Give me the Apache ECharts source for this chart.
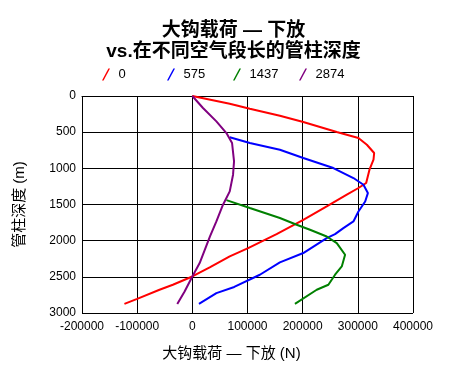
<!DOCTYPE html>
<html><head><meta charset="utf-8">
<script src="https://cdn.jsdelivr.net/npm/echarts@6/dist/echarts.min.js"></script>
<style>html,body{margin:0;padding:0;background:#fff}#c{width:467px;height:373px}</style>
</head><body><div id="c"></div>
<script>
const seriesNames = ['0', '575', '1437', '2874'];
const colors = ['#ff0000', '#0000ff', '#008000', '#800080'];
const xTicks = [-200000, 400000, 100000];
const yTicks = [0, 3000, 500];
// [hook load (N), depth (m)]
const s0 = [[0,0],[67800,106],[104200,176],[158700,272],[201100,360],[261800,498],[301100,581],[316400,674],[329600,788],[328400,881],[321100,1019],[315100,1203],[301100,1272],[280000,1365],[243600,1527],[201100,1711],[152700,1909],[101100,2102],[67800,2218],[31500,2370],[0,2495],[-35300,2610],[-59500,2679],[-100000,2804],[-123100,2874]];
const s575 = [[67800,570],[104200,650],[158700,743],[201100,857],[255600,996],[292000,1134],[310200,1227],[318200,1342],[313300,1458],[301100,1596],[292000,1734],[273800,1826],[258700,1909],[243600,1964],[201100,2171],[158700,2301],[122400,2471],[76000,2640],[43600,2725],[12000,2874]];
const s1437 = [[61800,1440],[104200,1549],[158700,1687],[189100,1780],[213300,1849],[243600,1942],[261800,2033],[276900,2195],[270900,2357],[258700,2471],[246600,2610],[225500,2679],[186000,2874]];
const s2874 = [[0,0],[19300,166],[43600,351],[61800,512],[72000,650],[75600,904],[73800,1088],[67800,1319],[55600,1503],[43600,1734],[32000,1940],[13300,2310],[0,2495],[-14000,2702],[-27300,2874]];
const allData = [s0, s575, s1437, s2874];
const legendLefts = [97, 162, 228, 294];

const chart = echarts.init(document.getElementById('c'), null, {renderer:'canvas'});
const font = 'Arial, "Liberation Sans", "Noto Sans CJK SC", sans-serif';
chart.setOption({
  animation: false,
  backgroundColor: '#fff',
  title: {
    text: '大钩载荷 — 下放\nvs.在不同空气段长的管柱深度',
    left: 'center', top: 15,
    textStyle: {fontSize: 19, fontWeight: 'bold', color: '#000', fontFamily: font, lineHeight: 21}
  },
  legend: seriesNames.map((n, i) => ({
    data: [n], left: legendLefts[i], top: 63, itemGap: 0, itemWidth: 9, itemHeight: 12,
    icon: 'path://M0,12 L1.6,12 L8,0 L6.4,0 Z',
    textStyle: {fontSize: 13, color: '#000', fontFamily: font, padding: [0, 0, 0, 3]}
  })),
  grid: {left: 82, right: 54, top: 96, bottom: 60},
  xAxis: {
    type: 'value', min: xTicks[0], max: xTicks[1], interval: xTicks[2],
    name: '大钩载荷 — 下放 (N)', nameLocation: 'middle', nameGap: 33,
    nameTextStyle: {fontSize: 15, color: '#000', fontFamily: font, padding: [0, 32, 0, 0]},
    axisLine: {show: true, lineStyle: {color: '#000', width: 1}},
    axisTick: {show: false},
    axisLabel: {fontSize: 12, color: '#000', fontFamily: font, margin: 8, formatter: v => String(v)},
    splitLine: {show: true, lineStyle: {color: '#000', width: 1}}
  },
  yAxis: {
    type: 'value', inverse: true, min: yTicks[0], max: yTicks[1], interval: yTicks[2],
    name: '管柱深度 (m)', nameLocation: 'middle', nameGap: 55, nameRotate: 90,
    nameTextStyle: {fontSize: 15, color: '#000', fontFamily: font},
    axisLine: {show: true, lineStyle: {color: '#000', width: 1}},
    axisTick: {show: false},
    axisLabel: {fontSize: 12, color: '#000', fontFamily: font, margin: 6, formatter: v => String(v)},
    splitLine: {show: true, lineStyle: {color: '#000', width: 1}}
  },
  series: seriesNames.map((n, i) => ({
    name: n, type: 'line', data: allData[i], showSymbol: false, symbol: 'none',
    color: colors[i], lineStyle: {width: 2, color: colors[i]}
  }))
});
</script></body></html>
